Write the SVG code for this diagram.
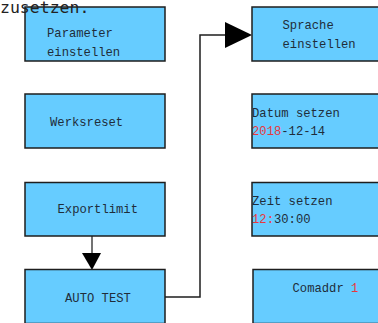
<svg xmlns="http://www.w3.org/2000/svg" width="378" height="323" viewBox="0 0 378 323">
<style>
.box{fill:#66ccff;stroke:#1e1e1e;stroke-width:1.5}
.t{font-family:"Liberation Mono",monospace;font-size:12.2px;fill:#1f2d3a}
.r{fill:#e8383d}
.line{fill:none;stroke:#1e1e1e;stroke-width:1.5}
.head{fill:#000}
</style>
<rect width="378" height="323" fill="#fff"/>
<g id="connectors">
<line class="line" x1="92" y1="236" x2="92" y2="254" style="stroke:#444"/>
<polygon class="head" points="82,253 101,253 92,270"/>
<polyline class="line" points="165,297 200,297 200,35 226,35"/>
<polygon class="head" points="225,22 225,48 252,35"/>
</g>
<g id="n1"><rect class="box" x="25" y="7" width="140" height="54"/>
<text class="t" x="47" y="37">Parameter</text><text class="t" x="47" y="56">einstellen</text></g>
<g id="n2"><rect class="box" x="25" y="94" width="140" height="54"/>
<text class="t" x="50" y="125.5">Werksreset</text></g>
<g id="n3"><rect class="box" x="25" y="182.5" width="140" height="53.5"/>
<text class="t" x="57.5" y="212.5">Exportlimit</text></g>
<g id="n4"><rect class="box" x="25" y="269.5" width="140" height="54"/>
<text class="t" x="65" y="301.5">AUTO TEST</text></g>
<g id="n5"><rect class="box" x="252" y="7" width="140" height="54"/>
<text class="t" x="282.5" y="29">Sprache</text><text class="t" x="282.5" y="48">einstellen</text></g>
<g id="n6"><rect class="box" x="252" y="94" width="140" height="54"/>
<text class="t" x="252" y="116.5">Datum setzen</text><text class="t" x="252" y="135"><tspan class="r">2018</tspan>-12-14</text></g>
<g id="n7"><rect class="box" x="252" y="182.5" width="140" height="53.5"/>
<text class="t" x="252" y="204.5">Zeit setzen</text><text class="t" x="252" y="222.5"><tspan class="r">12:</tspan>30:00</text></g>
<g id="n8"><rect class="box" x="253" y="269.5" width="140" height="54"/>
<text class="t" x="292.5" y="291.5">Comaddr <tspan class="r">1</tspan></text></g>
<text x="0" y="13" style="font-family:'DejaVu Sans Mono',monospace;font-size:16.5px;fill:#222">zusetzen.</text>
</svg>
